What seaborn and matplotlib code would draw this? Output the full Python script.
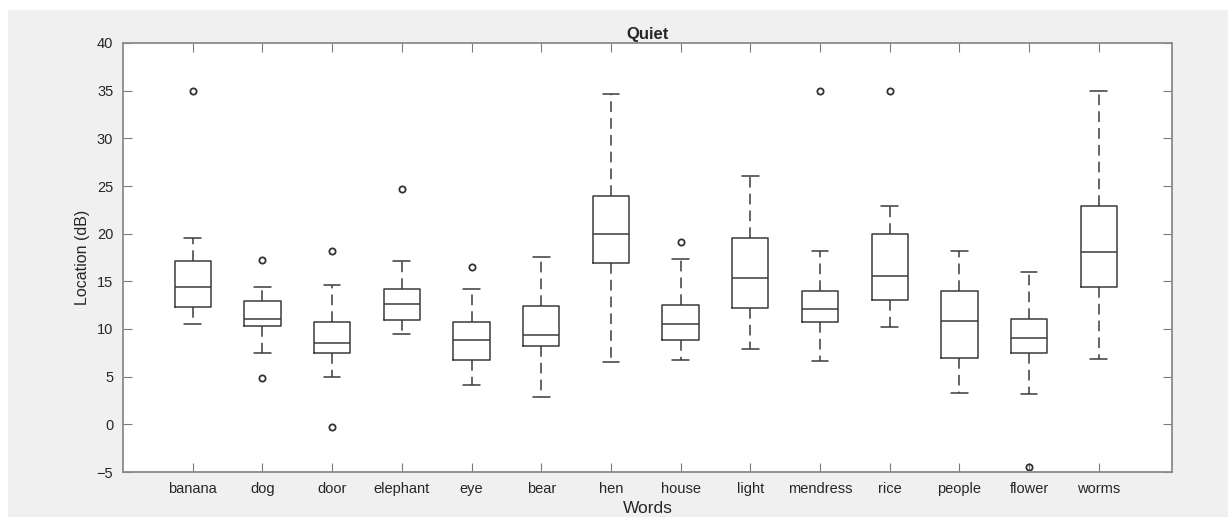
import seaborn as sns
import matplotlib.pyplot as plt
from matplotlib.patches import Rectangle

# values (Location in dB)
words = ["banana", "dog", "door", "elephant", "eye", "bear", "hen",
         "house", "light", "mendress", "rice", "people", "flower", "worms"]
whis_lo = [10.5, 7.45, 5.0, 9.5, 4.1, 2.9, 6.55, 6.8, 7.9, 6.65, 10.25, 3.25, 3.15, 6.85]
q1 = [12.35, 10.3, 7.45, 10.9, 6.8, 8.2, 16.9, 8.85, 12.2, 10.7, 13.0, 7.0, 7.45, 14.4]
medians = [14.45, 11.1, 8.5, 12.6, 8.8, 9.35, 20.0, 10.5, 15.35, 12.1, 15.6, 10.8, 9.1, 18.1]
q3 = [17.1, 12.9, 10.7, 14.2, 10.7, 12.4, 24.0, 12.5, 19.5, 14.0, 19.95, 14.0, 11.1, 22.95]
whis_hi = [19.5, 14.4, 14.6, 17.1, 14.2, 17.6, 34.6, 17.3, 26.0, 18.2, 22.85, 18.2, 16.0, 35.0]
outliers = [[35.0], [17.2, 4.9], [18.2, -0.25], [24.7], [16.5], [], [],
            [19.1], [], [35.0], [35.0], [], [-4.5], []]


def build_stats():
    stats = []
    for i, w in enumerate(words):
        stats.append({"label": w, "whislo": whis_lo[i], "q1": q1[i], "med": medians[i],
                      "q3": q3[i], "whishi": whis_hi[i], "fliers": outliers[i]})
    return stats


def plot_quiet(stats):
    sns.set_style("ticks")
    plt.rcParams["font.family"] = ["Liberation Sans", "DejaVu Sans"]

    fig = plt.figure(figsize=(12.28, 5.17), dpi=100, facecolor="white")
    fig.patches.append(Rectangle((8 / 1228, 0), 1, 1 - 10 / 517, transform=fig.transFigure,
                                 facecolor="#f0f0f0", edgecolor="none", zorder=-1))
    ax = fig.add_axes([123 / 1228, 45 / 517, 1049 / 1228, 429 / 517])
    ax.set_facecolor("white")

    line = "#3a3a3a"
    ax.bxp(stats, positions=range(1, len(words) + 1), widths=0.52, capwidths=0.24,
           boxprops=dict(color=line, linewidth=1.1),
           medianprops=dict(color=line, linewidth=1.1),
           whiskerprops=dict(color=line, linewidth=1.1, linestyle=(0, (7, 4))),
           capprops=dict(color=line, linewidth=1.1),
           flierprops=dict(marker="o", markersize=4.5, markerfacecolor="none",
                           markeredgecolor="#333333", markeredgewidth=1.3))

    ax.set_xlim(0.0, 15.05)
    ax.set_ylim(-5, 40)
    ax.set_yticks(range(-5, 41, 5))
    ax.tick_params(direction="in", length=6.5, width=0.8, color="#7a7a7a",
                   top=True, right=True, labelsize=10.5, labelcolor="#262626", pad=7)
    for s in ax.spines.values():
        s.set_color("#8a8a8a")
        s.set_linewidth(1.3)

    ax.set_title("Quiet", fontsize=12, fontweight="bold", pad=3)
    ax.set_xlabel("Words", fontsize=12.5, labelpad=4, color="#262626")
    ax.set_ylabel("Location (dB)", fontsize=11.5, labelpad=5, color="#262626")
    fig.savefig("out.png", dpi=100, facecolor=fig.get_facecolor())


if __name__ == "__main__":
    plot_quiet(build_stats())
